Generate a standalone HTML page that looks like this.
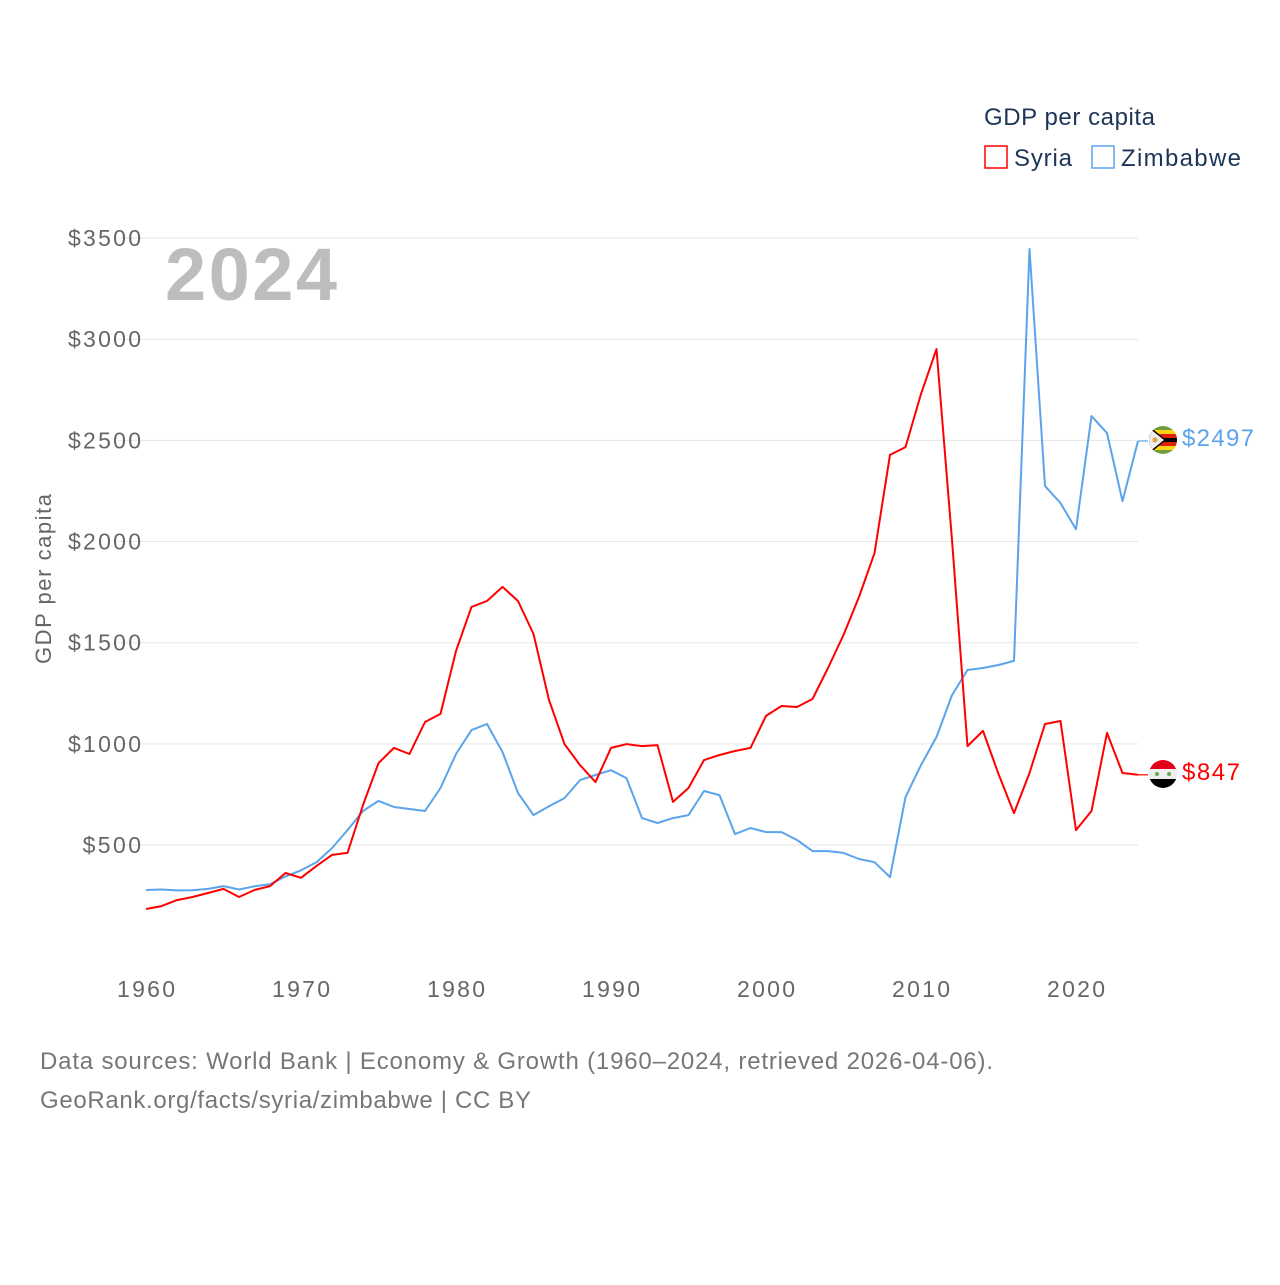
<!DOCTYPE html>
<html><head><meta charset="utf-8"><style>
html,body{margin:0;padding:0;background:#fff;}
body{width:1280px;height:1280px;overflow:hidden;font-family:"Liberation Sans",sans-serif;}
</style></head><body>
<svg id="chart" width="1280" height="1280" xmlns="http://www.w3.org/2000/svg" font-family="Liberation Sans, sans-serif">
<text x="984" y="125" font-size="24" fill="#1d3557" textLength="171">GDP per capita</text>
<g>
<rect x="985" y="146" width="22" height="22" fill="none" stroke="#f00" stroke-width="1.5"/>
<text x="1014" y="166" font-size="24" fill="#1d3557" textLength="58">Syria</text></g>
<g>
<rect x="1092" y="146" width="22" height="22" fill="none" stroke="#5ba4ec" stroke-width="1.5"/>
<text x="1121" y="166" font-size="24" fill="#1d3557" textLength="120">Zimbabwe</text></g>
<text x="165" y="300" font-size="74" font-weight="bold" fill="#bdbdbd" textLength="172">2024</text>
<text transform="translate(51,579) rotate(-90)" text-anchor="middle" font-size="22" fill="#666" textLength="170">GDP per capita</text>
<g id="grid"></g><g id="yt"></g><g id="xt"></g><g id="lines"></g>
<text x="40" y="1069" font-size="24" fill="#777" textLength="953">Data sources: World Bank | Economy &amp; Growth (1960–2024, retrieved 2026-04-06).</text>
<text x="40" y="1108" font-size="24" fill="#777" textLength="491">GeoRank.org/facts/syria/zimbabwe | CC BY</text>
<g>
<clipPath id="cz"><circle cx="1163" cy="440" r="14"/></clipPath>
<g clip-path="url(#cz)">
<rect x="1149" y="426" width="28" height="28" fill="#6a9e3f"/>
<rect x="1149" y="430" width="28" height="4" fill="#fcd116"/>
<rect x="1149" y="434" width="28" height="4" fill="#de2010"/>
<rect x="1149" y="438" width="28" height="4" fill="#000"/>
<rect x="1149" y="442" width="28" height="4" fill="#de2010"/>
<rect x="1149" y="446" width="28" height="4" fill="#fcd116"/>
<polygon points="1149,426 1166,440 1149,454" fill="#000"/>
<polygon points="1149,428 1164,440 1149,452" fill="#eee"/>
<circle cx="1155" cy="440" r="2.5" fill="#e8a040"/></g></g>
<g>
<clipPath id="cs"><circle cx="1163" cy="774" r="14"/></clipPath>
<g clip-path="url(#cs)">
<rect x="1149" y="760" width="28" height="10" fill="#e4001b"/>
<rect x="1149" y="769" width="28" height="10" fill="#eee"/>
<rect x="1149" y="779" width="28" height="10" fill="#000"/>
<circle cx="1157" cy="774" r="2" fill="#6aa84f"/><circle cx="1169" cy="774" r="2" fill="#6aa84f"/></g></g>
<text x="1182" y="446" font-size="24" fill="#5ba4ec" textLength="72">$2497</text>
<text x="1182" y="780" font-size="24" fill="#f00" textLength="58">$847</text>
</svg>
<script>
const years=[];for(let y=1960;y<=2024;y++)years.push(y);
const syria=[184,198,228,243,263,283,243,278,297,362,338,397,451,461,698,905,980,950,1108,1148,1459,1677,1706,1776,1706,1543,1217,999,895,811,980,999,989,994,713,782,920,945,965,980,1138,1187,1182,1222,1375,1538,1726,1943,2428,2467,2729,2951,2007,989,1064,851,658,856,1098,1113,574,668,1054,856,847];
const zimbabwe=[278,280,276,277,283,297,280,296,306,345,375,415,485,574,668,718,688,678,668,782,950,1068,1098,960,757,648,692,732,821,846,870,831,633,609,633,648,767,747,554,584,564,564,525,470,470,461,431,415,341,737,895,1034,1241,1365,1375,1390,1410,3446,2274,2190,2061,2620,2536,2200,2497];
const yTicks=[500,1000,1500,2000,2500,3000,3500];
const xTicks=[1960,1970,1980,1990,2000,2010,2020];
const NS="http://www.w3.org/2000/svg";
const xs=y=>146+(y-1960)*15.5;
const ys=v=>946.2-v*0.20233;
function mk(t,a,p){const e=document.createElementNS(NS,t);for(const k in a)e.setAttribute(k,a[k]);p.appendChild(e);return e;}
const grid=document.getElementById('grid'),yt=document.getElementById('yt'),xt=document.getElementById('xt'),lines=document.getElementById('lines');
yTicks.forEach(v=>{
 const l=mk('line',{x1:118,x2:1138,y1:ys(v),y2:ys(v),stroke:'#e6e6e6','stroke-width':1},grid);
 
 
 const s='$'+v;
 const t=mk('text',{x:141,y:ys(v)+8,'text-anchor':'end','font-size':23,fill:'#666',textLength:s.length*14.6},yt);
 t.textContent=s;
 
 
});
xTicks.forEach(v=>{
 const t=mk('text',{x:xs(v),y:997,'text-anchor':'middle','font-size':23,fill:'#666',textLength:58},xt);
 t.textContent=v;
 
 
});
function series(vals,color,name){
 const d=vals.map((v,i)=>(i?'L':'M')+xs(years[i]).toFixed(1)+','+ys(v).toFixed(1)).join('');
 const p=mk('path',{d:d,fill:'none',stroke:color,'stroke-width':2,'stroke-linejoin':'round'},lines);
 
 
 const last=vals[vals.length-1];
 const c=mk('line',{x1:xs(2024),x2:1148,y1:ys(last),y2:ys(last),stroke:color,'stroke-width':1.2},lines);
 
 
}
series(zimbabwe,'#5ba4ec','zimbabwe-line');
series(syria,'#f00','syria-line');
</script>
</body></html>
